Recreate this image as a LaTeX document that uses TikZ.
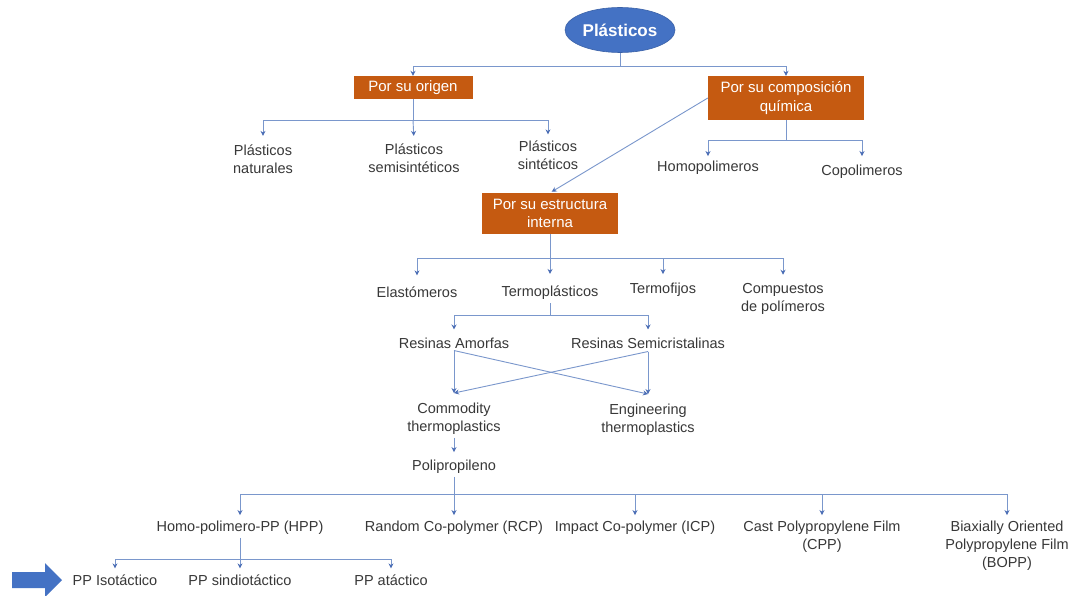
\documentclass[tikz,border=0pt]{standalone}
\usepackage{fontspec}
\setmainfont{Liberation Sans}
\usetikzlibrary{arrows.meta,shapes.geometric}
\definecolor{lineblue}{HTML}{7A97CC}
\definecolor{tipblue}{HTML}{4A6DB5}
\definecolor{boxorange}{HTML}{C55A11}
\definecolor{ovalblue}{HTML}{4472C4}
\definecolor{txtgray}{HTML}{383838}
\begin{document}
\begin{tikzpicture}[x=1pt,y=-1pt,
  conn/.style={draw=lineblue, line width=0.9pt,
    -{Stealth[length=5pt,width=5pt,color=tipblue]}},
  bar/.style={draw=lineblue, line width=0.9pt},
  txt/.style={font=\fontsize{14.5}{18}\selectfont, text=txtgray,
    align=center, inner xsep=2pt, inner ysep=3pt},
  catbox/.style={fill=boxorange, text=white, align=center, inner sep=0pt,
    font=\fontsize{15}{18.5}\selectfont},
  oval/.style={ellipse, fill=ovalblue, draw=ovalblue!85!black, line width=0.6pt,
    text=white, inner sep=0pt, font=\bfseries\fontsize{17}{20}\selectfont}]

\useasboundingbox (0,0) rectangle (1070,596);
\fill[white] (0,0) rectangle (1070,596);

% root and classification criteria
\node[oval, minimum width=110pt, minimum height=45pt] (pl) at (620,30) {Plásticos};
\node[catbox, minimum width=119pt, minimum height=23pt] (ori) at (413,87.5) {Por su origen};
\node[catbox, minimum width=156pt, minimum height=44pt] (comp) at (786,98) {Por su composición\\química};
\node[catbox, minimum width=136pt, minimum height=41pt] (estr) at (550,213.5) {Por su estructura\\interna};

\draw[bar] (pl.south) -- (pl.south |- 0,66);
\draw[conn] (pl.south |- 0,66) -| (ori.north);
\draw[conn] (pl.south |- 0,66) -| (comp.north);

% by origin
\node[txt] (nat) at (263,159.5) {Plásticos\\naturales};
\node[txt] (semi) at (414,158.5) {Plásticos\\semisintéticos};
\node[txt] (sint) at (548,155) {Plásticos\\sintéticos};
\draw[bar] (ori.south) -- (ori.south |- 0,120);
\draw[conn, shorten >=6pt] (ori.south |- 0,120) -| (nat.north);
\draw[conn, shorten >=5pt] (ori.south |- 0,120) -- (semi.north);
\draw[conn, shorten >=3pt] (ori.south |- 0,120) -| (sint.north);

% by chemical composition
\node[txt] (homo) at (708,168) {Homopolimeros};
\node[txt] (copo) at (862,172) {Copolimeros};
\draw[bar] (comp.south) -- (comp.south |- 0,140);
\draw[conn, shorten >=2pt] (comp.south |- 0,140) -| (homo.north);
\draw[conn, shorten >=6pt] (comp.south |- 0,140) -| (copo.north);

\draw[conn, shorten >=2pt] (comp.west) -- (estr.north);

% by internal structure
\node[txt] (elas) at (417,292) {Elastómeros};
\node[txt] (tplas) at (550,293) {Termoplásticos};
\node[txt] (tfij) at (663,290) {Termofijos};
\node[txt] (cpol) at (783,298.5) {Compuestos\\de polímeros};
\draw[bar] (estr.south) -- (estr.south |- 0,258);
\draw[conn, shorten >=8pt] (estr.south |- 0,258) -| (elas.north);
\draw[conn, shorten >=9pt] (estr.south |- 0,258) -- (tplas.north);
\draw[conn, shorten >=6pt] (estr.south |- 0,258) -| (tfij.north);
\draw[conn, shorten >=5pt] (estr.south |- 0,258) -| (cpol.north);

% thermoplastics
\node[txt] (amo) at (454,343) {Resinas Amorfas};
\node[txt] (scri) at (648,343) {Resinas Semicristalinas};
\draw[bar] (tplas.south) -- (tplas.south |- 0,315);
\draw[conn, shorten >=5pt] (tplas.south |- 0,315) -| (amo.north);
\draw[conn, shorten >=5pt] (tplas.south |- 0,315) -| (scri.north);

% each resin family leads to both commodity and engineering grades
\node[txt] (comm) at (454,419) {Commodity\\thermoplastics};
\node[txt] (eng) at (648,420) {Engineering\\thermoplastics};
\draw[conn] ([yshift=1pt]amo.south) -- ([yshift=7pt]comm.north);
\draw[conn] ([yshift=1pt]amo.south) -- ([yshift=7pt]eng.north);
\draw[conn] (scri.south) -- ([yshift=7pt]eng.north);
\draw[conn] (scri.south) -- ([yshift=7pt]comm.north);

% polypropylene and its grades
\node[txt] (pp) at (454,467) {Polipropileno};
\draw[conn, shorten >=5pt] (comm.south) -- (pp.north);

\node[txt] (hpp) at (240,528) {Homo-polimero-PP (HPP)};
\node[txt] (rcp) at (454,528) {Random Co-polymer (RCP)};
\node[txt] (icp) at (635,528) {Impact Co-polymer (ICP)};
\node[txt] (cpp) at (822,537) {Cast Polypropylene Film\\(CPP)};
\node[txt] (bopp) at (1007,546) {Biaxially Oriented\\Polypropylene Film\\(BOPP)};
\draw[bar] (pp.south) -- (pp.south |- 0,494);
\draw[conn, shorten >=3pt] (pp.south |- 0,494) -| (hpp.north);
\draw[conn, shorten >=3pt] (pp.south |- 0,494) -- (rcp.north);
\draw[conn, shorten >=3pt] (pp.south |- 0,494) -| (icp.north);
\draw[conn, shorten >=3pt] (pp.south |- 0,494) -| (cpp.north);
\draw[conn, shorten >=3pt] (pp.south |- 0,494) -| (bopp.north);

% homopolymer tacticity
\node[txt] (iso) at (115,580) {PP Isotáctico};
\node[txt] (sin) at (240,580) {PP sindiotáctico};
\node[txt] (ata) at (391,580) {PP atáctico};
\draw[bar] (hpp.south) -- (hpp.south |- 0,559);
\draw[conn, shorten >=3pt] (hpp.south |- 0,559) -| (iso.north);
\draw[conn, shorten >=3pt] (hpp.south |- 0,559) -- (sin.north);
\draw[conn, shorten >=3pt] (hpp.south |- 0,559) -| (ata.north);

% highlight arrow
\fill[ovalblue] (12,572) -- (45,572) -- (45,563) -- (62,580) -- (45,597)
  -- (45,588) -- (12,588) -- cycle;
\end{tikzpicture}
\end{document}
